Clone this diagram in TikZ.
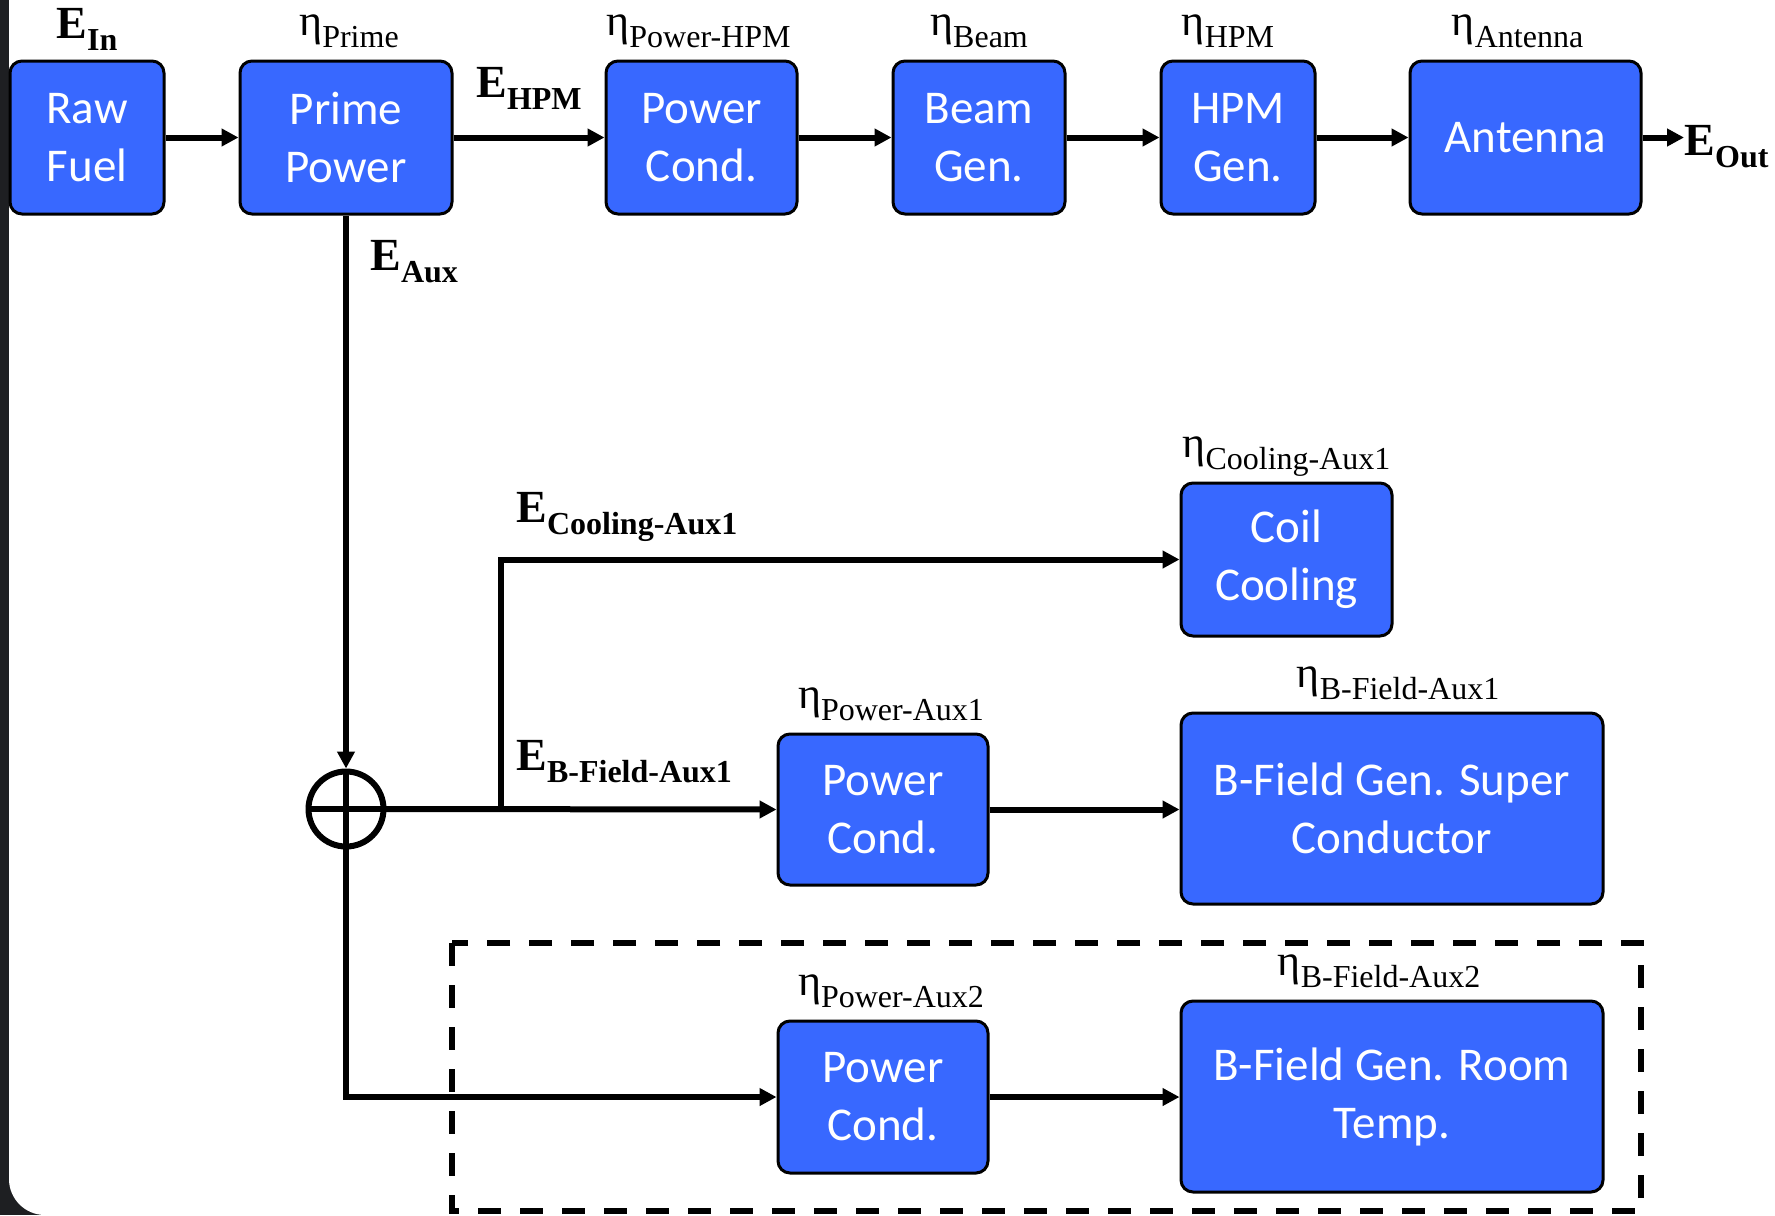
\documentclass[tikz,border=0pt]{standalone}
\usepackage{fontspec}
\setmainfont{Liberation Serif}
\newfontfamily\boxfont{Carlito}
\usetikzlibrary{arrows.meta,calc}
\definecolor{boxblue}{RGB}{56,104,255}
\definecolor{darkside}{RGB}{30,31,34}
\newcommand\lsub[1]{\raisebox{-6pt}{\fontsize{16pt}{18pt}\selectfont #1}}
\begin{document}
\begin{tikzpicture}[x=0.5pt,y=-0.5pt,
 blk/.style={draw=black, line width=1.5pt, fill=boxblue, rounded corners=6pt, text=white,
   font=\boxfont\fontsize{23.5pt}{29pt}\selectfont, align=center, inner sep=0pt},
 arr/.style={line width=3pt, -{Triangle[length=8.5pt,width=8.5pt]}},
 ln/.style={line width=3pt},
 elab/.style={font=\bfseries\fontsize{23pt}{27pt}\selectfont, inner sep=0pt},
 eta/.style={font=\fontsize{22pt}{26pt}\selectfont, inner sep=0pt, anchor=base},
]
\useasboundingbox (0,0) rectangle (1775,1215);
\clip (0,0) rectangle (1775,1215);
\fill[darkside] (0,0) rectangle (1775,1215);
\fill[white, rounded corners=18pt] (9,-100) rectangle (1900,1215);

% top row
\node[blk, minimum width=77pt, minimum height=76.5pt] (rf) at (87,137.5) {Raw\\Fuel};
\node[blk, minimum width=106pt, minimum height=76.5pt] (pp) at (346,137.5) {Prime\\Power};
\node[blk, minimum width=95.5pt, minimum height=76.5pt] (pc) at (701.5,137.5) {Power\\Cond.};
\node[blk, minimum width=86pt, minimum height=76.5pt] (bg) at (979,137.5) {Beam\\Gen.};
\node[blk, minimum width=77pt, minimum height=76.5pt] (hg) at (1238,137.5) {HPM\\Gen.};
\node[blk, minimum width=115.5pt, minimum height=76.5pt] (ant) at (1525.5,137.5) {Antenna};

% lower boxes
\node[blk, minimum width=105.5pt, minimum height=76.5pt] (coil) at (1286.5,559.5) {Coil\\Cooling};
\node[blk, minimum width=105pt, minimum height=75.5pt] (pc1) at (883,809.5) {Power\\Cond.};
\node[blk, minimum width=211pt, minimum height=95.5pt] (bsc) at (1392,808.5) {B-Field Gen. Super\\Conductor};
\node[blk, minimum width=105pt, minimum height=76pt] (pc2) at (883,1097) {Power\\Cond.};
\node[blk, minimum width=211pt, minimum height=95.5pt] (brt) at (1392,1096.5) {B-Field Gen. Room\\Temp.};

% summing junction
\node[circle, draw=black, line width=3pt, minimum size=37.5pt, inner sep=0pt] (sum) at (346,809) {};

% eta labels
\node[eta] (e1) at ([yshift=12pt,xshift=1.5pt]pp.north) {η\lsub{Prime}};
\node[eta] (e2) at ([yshift=12pt,xshift=-1.5pt]pc.north) {η\lsub{Power-HPM}};
\node[eta] (e3) at ([yshift=12pt]bg.north) {η\lsub{Beam}};
\node[eta] (e4) at ([yshift=12pt,xshift=-5pt]hg.north) {η\lsub{HPM}};
\node[eta] (e5) at ([yshift=12pt,xshift=-4pt]ant.north) {η\lsub{Antenna}};
\node[eta] (e6) at ([yshift=12pt]coil.north) {η\lsub{Cooling-Aux1}};
\node[eta] (e7) at ([yshift=12pt,xshift=4pt]pc1.north) {η\lsub{Power-Aux1}};
\node[eta] (e8) at ([yshift=12pt,xshift=3pt]bsc.north) {η\lsub{B-Field-Aux1}};
\node[eta] (e9) at ([yshift=12pt,xshift=4pt]pc2.north) {η\lsub{Power-Aux2}};
\node[eta] (e10) at ([yshift=12pt,xshift=-6.5pt]brt.north) {η\lsub{B-Field-Aux2}};

% E labels
\node[elab, anchor=base] (ein) at ([yshift=10.5pt]rf.north) {E\lsub{In}};
\node[elab, anchor=base] (ehpm) at (529,97) {E\lsub{HPM}};
\node[elab, anchor=base west] (eaux) at (370,270) {E\lsub{Aux}};
\node[elab, anchor=base west] (eout) at (1684,155) {E\lsub{Out}};
\node[elab, anchor=base west] (ecool) at (516,522) {E\lsub{Cooling-Aux1}};
\node[elab, anchor=base west] (ebf) at (516,770) {E\lsub{B-Field-Aux1}};

% connectors top row
\draw[arr] (rf.east) -- (pp.west);
\draw[arr] (pp.east) -- (pc.west);
\draw[arr] (pc.east) -- (bg.west);
\draw[arr] (bg.east) -- (hg.west);
\draw[arr] (hg.east) -- (ant.west);
\draw[arr] (ant.east) -- (ant.east -| eout.west);

% aux
\draw[arr] (pp.south) -- (sum.north);
\draw[line width=2.6pt] (sum.north) -- (sum.south);
\draw[line width=2.6pt] (sum.west) -- (sum.east);
\draw[arr] (sum.east) -- (pc1.west);
\coordinate (br) at (501,809);
\draw[arr] (br) |- (coil.west);
\draw[arr] (pc1.east) -- (pc1.east -| bsc.west);
\draw[arr] (sum.south) |- (pc2.west);
\draw[arr] (pc2.east) -- (pc2.east -| brt.west);

% dashed group
\draw[line width=3pt, dash pattern=on 11.5pt off 9.5pt] (452,943) rectangle (1641,1211);
\end{tikzpicture}
\end{document}
